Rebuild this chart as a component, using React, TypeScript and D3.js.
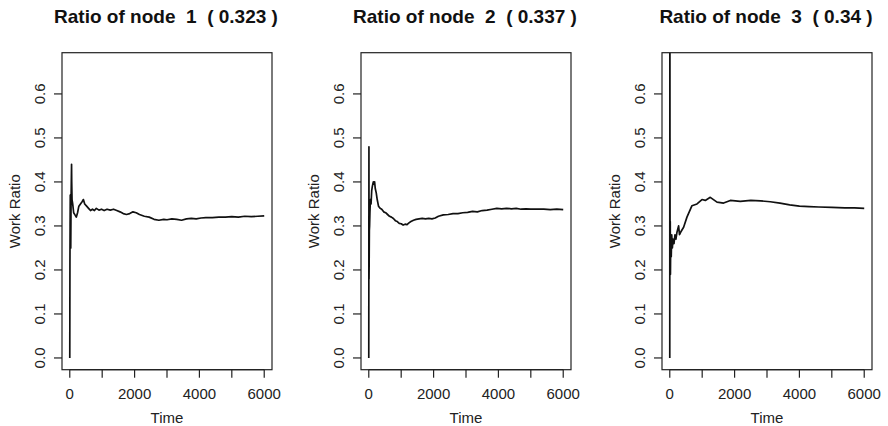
import React from "react";
import * as d3 from "d3";

const titles = ["Ratio of node  1  ( 0.323 )", "Ratio of node  2  ( 0.337 )", "Ratio of node  3  ( 0.34 )"];
const xTicks = [0, 1000, 2000, 3000, 4000, 5000, 6000];
const xTickLabels = ["0", "", "2000", "", "4000", "", "6000"];
const yTicks = [0, 0.1, 0.2, 0.3, 0.4, 0.5, 0.6];
const yTickLabels = ["0.0", "0.1", "0.2", "0.3", "0.4", "0.5", "0.6"];
const xLabel = "Time";
const yLabel = "Work Ratio";

const node1Time = [0, 5, 10, 15, 20, 30, 40, 55, 60, 70, 90, 120, 160, 200, 240, 280, 330, 380, 420, 460, 520, 580, 640, 700, 760, 820, 900, 980, 1060, 1150, 1250, 1350, 1450, 1550, 1650, 1750, 1850, 1950, 2050, 2150, 2300, 2450, 2600, 2750, 2900, 3000, 3150, 3300, 3450, 3600, 3750, 3900, 4050, 4200, 4400, 4600, 4800, 5000, 5200, 5400, 5600, 5800, 6000];
const node1Value = [0.0, 0.22, 0.3, 0.37, 0.36, 0.25, 0.36, 0.44, 0.4, 0.36, 0.35, 0.33, 0.325, 0.32, 0.33, 0.345, 0.35, 0.355, 0.36, 0.35, 0.345, 0.34, 0.335, 0.338, 0.335, 0.34, 0.336, 0.338, 0.335, 0.338, 0.336, 0.338, 0.335, 0.332, 0.328, 0.326, 0.328, 0.332, 0.33, 0.326, 0.322, 0.32, 0.315, 0.313, 0.315, 0.314, 0.316, 0.315, 0.313, 0.316, 0.317, 0.316, 0.318, 0.319, 0.319, 0.32, 0.32, 0.321, 0.32, 0.322, 0.321, 0.322, 0.323];

const node2Time = [0, 5, 8, 12, 18, 25, 35, 50, 70, 90, 110, 140, 160, 180, 200, 230, 260, 300, 350, 400, 460, 520, 580, 640, 700, 760, 820, 880, 940, 1000, 1060, 1120, 1180, 1240, 1300, 1380, 1460, 1550, 1650, 1750, 1850, 1950, 2050, 2150, 2300, 2450, 2600, 2750, 2900, 3050, 3200, 3350, 3500, 3650, 3800, 3950, 4100, 4250, 4400, 4550, 4700, 4850, 5000, 5200, 5400, 5600, 5800, 6000];
const node2Value = [0.0, 0.48, 0.18, 0.22, 0.29, 0.3, 0.33, 0.36, 0.35, 0.38, 0.39, 0.4, 0.395, 0.4, 0.385, 0.375, 0.36, 0.345, 0.34, 0.338, 0.332, 0.33, 0.326, 0.322, 0.32, 0.317, 0.312, 0.31, 0.306, 0.305, 0.302, 0.304, 0.303, 0.307, 0.31, 0.313, 0.315, 0.316, 0.317, 0.316, 0.317, 0.316, 0.318, 0.322, 0.325, 0.326, 0.328, 0.328, 0.33, 0.331, 0.333, 0.332, 0.335, 0.336, 0.338, 0.34, 0.339, 0.34, 0.339, 0.34, 0.338, 0.339, 0.338, 0.338, 0.338, 0.337, 0.338, 0.337];

const node3Time = [0, 3, 6, 10, 15, 20, 30, 45, 60, 80, 100, 130, 160, 190, 220, 272, 300, 330, 427, 530, 685, 840, 994, 1096, 1250, 1457, 1661, 1868, 2176, 2500, 2800, 3100, 3400, 3700, 4000, 4300, 4600, 5000, 5400, 5700, 6000];
const node3Value = [0.0, 1.0, 0.5, 0.2, 0.31, 0.19, 0.27, 0.23, 0.28, 0.25, 0.27, 0.26, 0.28, 0.27, 0.285, 0.3, 0.28, 0.285, 0.297, 0.32, 0.346, 0.35, 0.36, 0.358, 0.365, 0.354, 0.352, 0.358, 0.356, 0.358, 0.357, 0.355, 0.352, 0.348, 0.345, 0.344, 0.343, 0.342, 0.341, 0.341, 0.34];

const seriesTimes = [node1Time, node2Time, node3Time];
const seriesValues = [node1Value, node2Value, node3Value];

const W = 888;
const H = 426;
const panelLefts = [62, 361, 662];
const plotW = 210;
const plotTop = 52.7;
const plotBottom = 369.7;
const font = "'Liberation Sans', Arial, Helvetica, sans-serif";

function Panel({ idx }: { idx: number }) {
  const left = panelLefts[idx];
  const right = left + plotW;
  const xr = [0, 6000];
  const yr = [0, 0.667];
  const xPad = (xr[1] - xr[0]) * 0.04;
  const yPad = (yr[1] - yr[0]) * 0.04;
  const x = d3.scaleLinear().domain([xr[0] - xPad, xr[1] + xPad]).range([left, right]);
  const y = d3.scaleLinear().domain([yr[0] - yPad, yr[1] + yPad]).range([plotBottom, plotTop]);
  const times = seriesTimes[idx];
  const vals = seriesValues[idx];
  const pts: [number, number][] = times.map((t, i) => [t, vals[i]]);
  const line = d3.line<[number, number]>().x((d) => x(d[0])).y((d) => y(d[1]));
  const clipId = `clip${idx}`;
  const cx = (left + right) / 2;
  const cy = (plotTop + plotBottom) / 2;
  return (
    <g>
      <defs>
        <clipPath id={clipId}>
          <rect x={left} y={plotTop} width={plotW} height={plotBottom - plotTop} />
        </clipPath>
      </defs>
      <text x={cx - 1} y={23} textAnchor="middle" fontWeight="bold" fontSize={19} fontFamily={font} fill="#111" style={{ whiteSpace: "pre" }}>
        {titles[idx]}
      </text>
      <path d={line(pts) || ""} fill="none" stroke="#111" strokeWidth={1.7} clipPath={`url(#${clipId})`} strokeLinejoin="round" />
      <rect x={left} y={plotTop} width={plotW} height={plotBottom - plotTop} fill="none" stroke="#222" strokeWidth={1.2} />
      {/* x axis */}
      <line x1={x(xTicks[0])} x2={x(xTicks[xTicks.length - 1])} y1={plotBottom} y2={plotBottom} stroke="#222" strokeWidth={1.2} />
      {xTicks.map((t, i) => (
        <g key={`xt${i}`}>
          <line x1={x(t)} x2={x(t)} y1={plotBottom} y2={plotBottom + 8} stroke="#222" strokeWidth={1.2} />
          {xTickLabels[i] && (
            <text x={x(t)} y={399} textAnchor="middle" fontSize={15} fontFamily={font} fill="#222">
              {xTickLabels[i]}
            </text>
          )}
        </g>
      ))}
      <text x={cx} y={423} textAnchor="middle" fontSize={15} fontFamily={font} fill="#222">
        {xLabel}
      </text>
      {/* y axis */}
      {yTicks.map((v, i) => (
        <g key={`yt${i}`}>
          <line x1={left - 8} x2={left} y1={y(v)} y2={y(v)} stroke="#222" strokeWidth={1.2} />
          <text transform={`translate(${left - 17},${y(v)}) rotate(-90)`} textAnchor="middle" fontSize={15} fontFamily={font} fill="#222">
            {yTickLabels[i]}
          </text>
        </g>
      ))}
      <text transform={`translate(${left - 42},${cy}) rotate(-90)`} textAnchor="middle" fontSize={15} fontFamily={font} fill="#222">
        {yLabel}
      </text>
    </g>
  );
}

export default function App() {
  return (
    <svg width={W} height={H} style={{ position: "absolute", left: 0, top: 0, background: "#fff" }}>
      <rect x={0} y={0} width={W} height={H} fill="#fff" />
      {[0, 1, 2].map((i) => (
        <Panel key={i} idx={i} />
      ))}
    </svg>
  );
}
